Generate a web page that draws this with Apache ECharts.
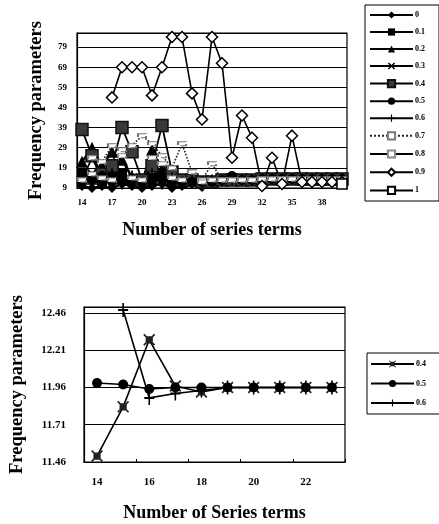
<!DOCTYPE html>
<html>
<head>
<meta charset="utf-8">
<script src="https://cdn.jsdelivr.net/npm/echarts@6/dist/echarts.min.js"></script>
<style>
html,body{margin:0;padding:0;background:#fff;}
#c{width:439px;height:524px;}
</style>
</head>
<body>
<div id="c"></div>
<script>
// ---------- top chart data ----------
const termsTop = [14,15,16,17,18,19,20,21,22,23,24,25,26,27,28,29,30,31,32,33,34,35,36,37,38,39,40];
const yTicksTop = [9,19,29,39,49,59,69,79];
const s0   = [10, 9,10, 9,11,10, 9,10,11, 9,10,11, 9.5,11,12,13,13,13,13.5,13.5,13.5,13.5,13.5,13.5,13.5,13.5,13.5];
const s01  = [16,14,12,15,16,13,11,14,16,12,13,14,12,12,13,13,13,13,13.5,13.5,13.5,13.5,13.5,13.5,13.5,13.5,13.5];
const s02  = [22,29,20,27,23,14,12,28,18,13,12,13,12,12,13,13,13,13,13.5,13.5,13.5,13.5,13.5,13.5,13.5,13.5,13.5];
const s03  = [13,16,12,14,17,12,11,15,14,12,12,12,12,13,13,13,13,13,13.5,13.5,13.5,13.5,13.5,13.5,13.5,13.5,13.5];
const s04  = [38,25,16,20,39,27,13,20,40,17,13,13,12,12,13,13,13,13,13.5,13.5,13.5,13.5,13.5,13.5,13.5,13.5,13.5];
const s05  = [12,13,15,12,12,14,12,12,13,12,12,12,12,12,13,15,13,13,13.5,13.5,13.5,13.5,13.5,13.5,13.5,13.5,13.5];
const s06  = [15,11,14,16,11,15,12,16,11,14,12,13,12,13,13,13,13,13,13.5,13.5,13.5,13.5,13.5,13.5,13.5,13.5,13.5];
const s07  = [13,16,22,30,28,30,35,31,25,19,31,17,13,21,13,13,13,13,13.5,13.5,13.5,13.5,13.5,13.5,13.5,13.5,13.5];
const s08  = [13,24,14,13,25,14,13,24,21,14,13,17,12,13,13,13,13,13,13.5,13.5,13.5,13.5,13.5,13.5,13.5,13.5,13.5];
const s09  = [null,null,null,54,69,69,69,55,69,84,84,56,43,84,71,24,45,34,10,24,11,35,12,12,12,12,12];
const s10  = [null,null,null,null,null,null,null,null,null,null,null,null,null,null,null,null,null,null,null,null,null,null,null,null,null,null,11];
const namesTop = ['0','0.1','0.2','0.3','0.4','0.5','0.6','0.7','0.8','0.9','1'];

// ---------- bottom chart data ----------
const termsBot = [14,15,16,17,18,19,20,21,22,23];
const yTicksBot = [11.46,11.71,11.96,12.21,12.46];
const b04 = [11.50,11.83,12.28,11.97,11.93,11.96,11.96,11.96,11.96,11.96];
const b05 = [11.99,11.98,11.95,11.96,11.96,11.96,11.96,11.96,11.96,11.96];
const b06 = [null,12.48,11.89,11.92,11.94,11.96,11.96,11.96,11.96,11.96];
const namesBot = ['0.4','0.5','0.6'];

const FONT = '"Liberation Serif","DejaVu Serif",serif';
const X_PATH = 'path://M0,1.5L1.5,0L5,3.5L8.5,0L10,1.5L6.5,5L10,8.5L8.5,10L5,6.5L1.5,10L0,8.5L3.5,5Z';
const AST_PATH = 'path://M2,2H8V8H2Z M0,1L1,0L5,4L9,0L10,1L6,5L10,9L9,10L5,6L1,10L0,9L4,5Z';
const PLUS_PATH = 'path://M4.2,0H5.8V4.3H10V5.7H5.8V10H4.2V5.7H0V4.3H4.2Z';

const topStyles = [
  {symbol:'diamond', size:10, color:'#000', w:2.2},
  {symbol:'rect', size:10, color:'#000', w:2.2},
  {symbol:'triangle', size:12, color:'#000', w:2.2},
  {symbol:X_PATH, size:10, color:'#000', w:2.2},
  {symbol:'rect', size:12, color:'#3a3a3a', border:'#111', w:1.8},
  {symbol:'circle', size:10, color:'#000', w:2.2},
  {symbol:PLUS_PATH, size:11, color:'#000', w:2.2},
  {symbol:'rect', size:[8,4], color:'#fff', border:'#777', dashed:true, lineType:'dotted', lineColor:'#222', w:1.6},
  {symbol:'rect', size:[8,4], color:'#fff', border:'#888', dashed:true, w:1.8},
  {symbol:'diamond', size:11, color:'#fff', border:'#000', w:1.6},
  {symbol:'rect', size:10, color:'#fff', border:'#000', w:1.6}
];
const topData = [s0,s01,s02,s03,s04,s05,s06,s07,s08,s09,s10];

const series = [];
topData.forEach((d,i)=>{
  const st = topStyles[i];
  series.push({
    name: namesTop[i], type:'line', xAxisIndex:0, yAxisIndex:0,
    data: d, symbol: st.symbol, symbolSize: st.size, showAllSymbol:true,
    connectNulls:false, animation:false,
    lineStyle:{color: st.lineColor || '#000', width: st.w, type: st.lineType || 'solid'},
    itemStyle:{color: st.color, borderColor: st.border || st.color,
               borderWidth: st.border ? 1.5 : 0, borderType: st.dashed ? 'dashed' : 'solid'}
  });
});
const botStyles = [
  {symbol:AST_PATH, size:12, color:'#222'},
  {symbol:'circle', size:10, color:'#000'},
  {symbol:PLUS_PATH, size:[10,14], color:'#000'}
];
[b04,b05,b06].forEach((d,i)=>{
  const st = botStyles[i];
  series.push({
    name: namesBot[i] + ' ', type:'line', xAxisIndex:1, yAxisIndex:1,
    data:d, symbol:st.symbol, symbolSize:st.size, showAllSymbol:true, animation:false,
    lineStyle:{color:'#000', width:1.6},
    itemStyle:{color:st.color}
  });
});

const chart = echarts.init(document.getElementById('c'), null, {renderer:'canvas'});
chart.setOption({
  backgroundColor:'#fff',
  animation:false,
  grid:[
    {left:77, right:92, top:33, bottom:336, show:true, borderColor:'#000', borderWidth:1.2, backgroundColor:'#fff'},
    {left:84, right:94, top:307, bottom:62, show:true, borderColor:'#000', borderWidth:1.2, backgroundColor:'#fff'}
  ],
  legend:[
    {
      orient:'vertical', left:365, top:5, itemWidth:43, itemHeight:9, itemGap:9,
      padding:[6,14,6,4], borderColor:'#000', borderWidth:1, selectedMode:false,
      data: namesTop,
      textStyle:{fontFamily:FONT, fontWeight:'bold', fontSize:8, color:'#000', padding:[0,0,0,-3]}
    },
    {
      orient:'vertical', left:367, top:353, itemWidth:43, itemHeight:9, itemGap:11.5,
      padding:[7,14,7,3], borderColor:'#000', borderWidth:1, selectedMode:false,
      data: namesBot.map(n=>n+' '),
      formatter: n => n.trim(),
      textStyle:{fontFamily:FONT, fontWeight:'bold', fontSize:8, color:'#000', padding:[0,0,0,-3]}
    }
  ],
  xAxis:[
    {
      type:'category', gridIndex:0, data: termsTop, boundaryGap:true,
      name:'Number of series terms', nameLocation:'middle', nameGap:33,
      nameTextStyle:{fontFamily:FONT, fontWeight:'bold', fontSize:18, color:'#000'},
      axisLine:{lineStyle:{color:'#000', width:1.2}},
      axisTick:{show:false},
      axisLabel:{interval:2, margin:10, fontFamily:FONT, fontWeight:'bold', fontSize:9, color:'#000'},
      splitLine:{show:false}
    },
    {
      type:'category', gridIndex:1, data: termsBot, boundaryGap:true,
      name:'Number of Series terms', nameLocation:'middle', nameGap:42,
      nameTextStyle:{fontFamily:FONT, fontWeight:'bold', fontSize:18, color:'#000'},
      axisLine:{lineStyle:{color:'#000', width:1.2}},
      axisTick:{show:true, inside:true, length:3, lineStyle:{color:'#000'}},
      axisLabel:{interval:1, margin:15, fontFamily:FONT, fontWeight:'bold', fontSize:11, color:'#000'},
      splitLine:{show:false}
    }
  ],
  yAxis:[
    {
      type:'value', gridIndex:0, min:yTicksTop[0], max:86, interval:yTicksTop[1]-yTicksTop[0],
      name:'Frequency parameters', nameLocation:'middle', nameGap:31, nameRotate:90,
      nameTextStyle:{fontFamily:FONT, fontWeight:'bold', fontSize:18.5, color:'#000'},
      axisLine:{show:true, lineStyle:{color:'#000', width:1.2}},
      axisTick:{show:false},
      axisLabel:{margin:10, showMaxLabel:false, fontFamily:FONT, fontWeight:'bold', fontSize:9, color:'#000'},
      splitLine:{show:true, lineStyle:{color:'#000', width:1}}
    },
    {
      type:'value', gridIndex:1, min:yTicksBot[0], max:12.50, interval:0.25,
      name:'Frequency parameters', nameLocation:'middle', nameGap:57, nameRotate:90,
      nameTextStyle:{fontFamily:FONT, fontWeight:'bold', fontSize:18.5, color:'#000'},
      axisLine:{show:true, lineStyle:{color:'#000', width:1.2}},
      axisTick:{show:false},
      axisLabel:{margin:18, showMaxLabel:false, fontFamily:FONT, fontWeight:'bold', fontSize:11, color:'#000',
                 formatter: v => v.toFixed(2)},
      splitLine:{show:true, lineStyle:{color:'#000', width:1}}
    }
  ],
  series: series
});
</script>
</body>
</html>
